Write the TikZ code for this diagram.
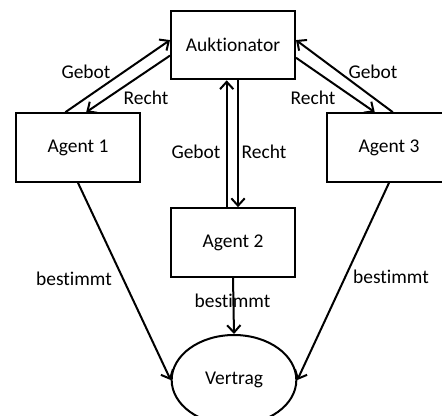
\documentclass[tikz,border=0pt]{standalone}
\usepackage{fontspec}
\setmainfont[Ligatures=NoCommon]{Carlito}
\usetikzlibrary{arrows.meta,calc,shapes.geometric}
\begin{document}
\begin{tikzpicture}[x=0.75pt,y=-0.75pt,
  font=\fontsize{14.6pt}{17pt}\selectfont,
  box/.style={draw,line width=1.5pt,minimum width=93pt,minimum height=51.5pt,inner sep=0pt},
  oval/.style={draw,ellipse,line width=1.5pt,minimum width=93.5pt,minimum height=67.5pt,inner sep=0pt},
  flow/.style={line width=1.5pt,-{Straight Barb[length=5.5pt,width=10pt,line width=1.5pt]}},
  lbl/.style={inner sep=0pt}]
  \useasboundingbox (0,0) rectangle (442,415);

  % participants
  \node[box] (auk) at (233,45) {Auktionator};
  \node[box] (a1) at (78,147.5) {Agent 1};
  \node[box] (a2) at (233,242.5) {Agent 2};
  \node[box] (a3) at (389,147.5) {Agent 3};
  \node[oval] (vt) at (234,380) {Vertrag};

  % bids and rights between agents and auctioneer
  \draw[flow] ($(a1.north west)!0.40!(a1.north east)$) -- ($(auk.north west)!0.43!(auk.south west)$);
  \draw[flow] ($(auk.north west)!0.65!(auk.south west)$) -- ($(a1.north west)!0.565!(a1.north east)$);
  \draw[flow] ($(auk.north east)!0.68!(auk.south east)$) -- ($(a3.north west)!0.387!(a3.north east)$);
  \draw[flow] ($(a3.north west)!0.53!(a3.north east)$) -- ($(auk.north east)!0.43!(auk.south east)$);
  \draw[flow] ($(a2.north west)!0.45!(a2.north east)$) -- ($(auk.south west)!0.45!(auk.south east)$);
  \draw[flow] ($(auk.south west)!0.54!(auk.south east)$) -- ($(a2.north west)!0.54!(a2.north east)$);

  % contract
  \draw[flow] (a1.south) -- (vt.west);
  \draw[flow] (a3.south) -- (vt.east);
  \draw[flow] (a2.south) -- (vt.north);

  % labels
  \node[lbl] (g1) at (86,72) {Gebot};
  \node[lbl] (r1) at (146,98) {Recht};
  \node[lbl] (g3) at (373,72) {Gebot};
  \node[lbl] (r3) at (313,98) {Recht};
  \node[lbl] (g2) at (196,152) {Gebot};
  \node[lbl] (r2) at (264,152) {Recht};
  \node[lbl] (b1) at (74,279) {bestimmt};
  \node[lbl] (b2) at (232.5,301) {bestimmt};
  \node[lbl] (b3) at (391,277) {bestimmt};
\end{tikzpicture}
\end{document}
